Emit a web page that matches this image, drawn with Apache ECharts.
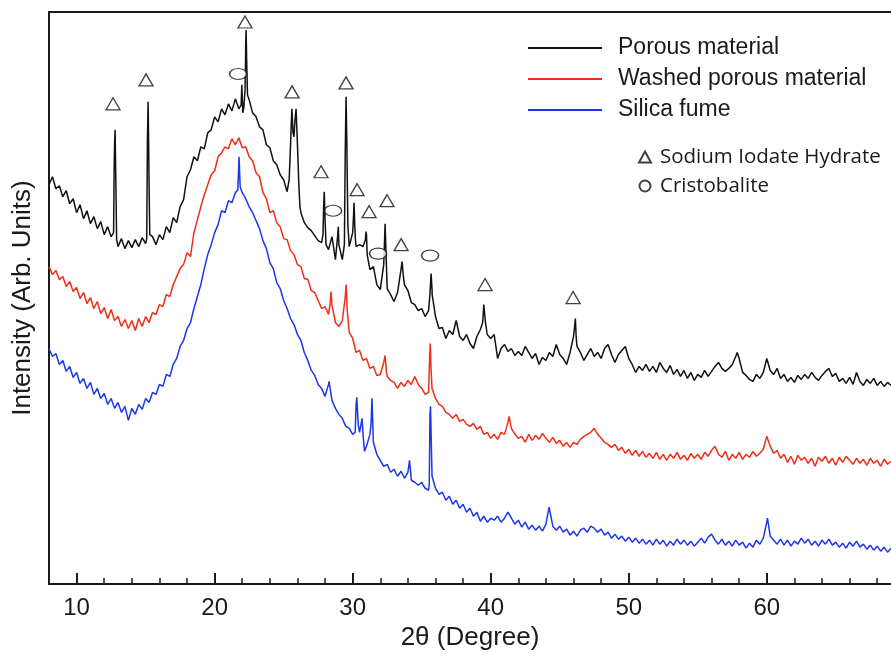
<!DOCTYPE html>
<html><head><meta charset="utf-8">
<script src="https://cdn.jsdelivr.net/npm/echarts@6/dist/echarts.min.js"></script>
<style>html,body{margin:0;padding:0;background:#fff}#c{width:891px;height:656px}</style>
</head><body><div id="c"></div>
<script>
// sampling grid of the read values (degrees 2θ)
const X_START = 8, X_STEP = 0.25;

// Porous material (black), values every 0.25° from 8 to 69
const porous = [
400,408,396,399, 388,394,381,386, 372,380,366,374, 361,368,356,363, 350,358,348,440,
338,346,336,344, 337,345,338,347, 341,400,348,340, 350,345,358,352, 367,362,378,385,
408,415,428,424, 438,436,452,455, 468,463,476,470, 481,474,486,476, 488,540,485,472,
468,458,455,440, 437,424,420,410, 405,393,440,448, 440,372,362,357, 354,349,344,342,
365,335,348,325, 340,325,470,338, 352,338,340,338, 350,315,318,300, 295,320,296,290,
283,292,315,300, 294,282,280,274, 276,268,274,295, 268,256,257,246, 254,250,264,248,
244,250,241,236, 248,255,280,250, 246,250,226,236, 240,233,236,229, 233,229,238,232,
226,231,220,227, 224,232,228,240, 230,226,220,232, 248,238,232,224, 230,236,228,232,
226,236,240,230, 222,230,234,238, 226,220,212,218, 214,220,213,218, 212,222,216,212,
219,210,215,208, 214,206,212,204, 210,207,214,208, 213,218,222,216, 213,216,220,228,
226,212,209,205, 203,210,206,212, 226,214,210,216, 206,210,203,207, 202,209,205,210,
206,212,207,204, 209,213,216,208, 211,203,206,201, 207,200,212,203, 199,205,201,206,
199,203,198,202, 199
];
// narrow peaks of the porous material, [2θ, value]
const porousPeaks = [
[12.68,352],[12.72,415],[12.79,455],[12.85,395],[12.9,345],
[15.08,346],[15.13,445],[15.18,483],[15.22,440],[15.3,350],
[21.92,480],[21.97,500],[22.04,472],[22.12,478],[22.2,495],[22.24,525],[22.28,555],[22.32,525],[22.38,490],
[25.4,405],[25.55,460],[25.6,476],[25.68,452],[25.82,465],[25.9,476],[26.1,400],[26.18,378],
[27.85,350],[27.9,380],[27.94,393],[27.99,370],[28.07,340],
[28.92,350],[28.96,358],
[29.4,340],[29.46,430],[29.52,488],[29.58,440],[29.65,360],
[30.06,368],[30.1,382],[30.15,360],[30.2,345],
[30.92,345],[30.97,353],[31.05,330],
[32.3,340],[32.35,361],[32.42,330],
[33.58,323],[33.66,310],
[35.6,290],[35.68,311],[35.76,290],
[37.57,265],
[39.42,262],[39.52,282],[39.62,262],
[46.08,258],[46.13,266],[46.2,246],
[57.86,232],[60.03,227]
];

// Washed porous material (red)
const washed = [
318,310,314,305, 308,298,303,293, 297,286,292,281, 287,276,283,271, 277,266,275,264,
268,258,265,256, 264,254,266,258, 268,262,272,270, 280,278,290,288, 300,308,316,320,
332,328,352,365, 378,390,400,410, 414,428,432,438, 436,446,440,447, 437,438,428,424,
412,408,392,386, 372,374,362,358, 346,345,334,330, 320,318,306,305, 294,292,284,276,
278,270,280,262, 258,264,294,252, 246,232,234,224, 226,216,218,209, 210,222,208,204,
202,196,202,198, 204,200,208,200, 196,190,192,196, 186,180,178,172, 170,166,170,163,
165,160,158,161, 155,158,150,152, 146,150,145,152, 150,162,156,150, 146,148,142,150,
144,149,145,151, 146,142,147,141, 144,138,142,137, 142,140,145,148, 150,152,156,150,
146,142,140,137, 140,134,137,131, 135,129,134,128, 133,127,131,126, 132,125,130,124,
130,126,132,125, 129,124,131,126, 130,125,132,128, 134,138,130,127, 133,124,130,126,
132,125,130,127, 133,128,131,135, 148,138,131,134, 126,130,122,128, 120,129,124,127,
121,126,118,127, 123,128,121,126, 119,127,122,128, 124,120,126,121, 125,119,126,121,
124,118,125,120, 123
];
const washedPeaks = [
[28.36,280],[28.43,293],
[29.44,285],[29.53,300],[29.6,275],
[32.35,229],[32.45,212],
[35.57,225],[35.62,241],[35.68,215],
[41.33,168],[60.05,150]
];

// Silica fume (blue)
const silica = [
236,228,231,220, 224,213,218,207, 212,201,206,196, 202,190,196,186, 191,180,186,176,
182,172,178,164, 176,170,180,175, 186,182,192,190, 200,198,210,208, 220,226,238,244,
256,262,276,288, 300,316,330,340, 352,360,374,372, 384,382,392,420, 392,386,378,372,
364,356,344,336, 322,316,302,296, 284,276,266,260, 250,244,232,224, 214,209,200,196,
188,200,184,176, 170,166,158,156, 150,180,152,150, 138,150,142,130, 124,118,120,112,
115,108,113,106, 112,104,102,99, 102,96,94,108, 96,90,92,84, 88,80,84,76,
80,72,76,68, 72,63,68,62, 66,64,68,62, 66,72,66,60, 64,57,62,55,
59,54,58,53, 60,76,58,54, 58,52,55,49, 53,48,54,56, 52,58,56,52,
55,49,52,46, 50,45,48,43, 47,42,46,41, 45,40,44,39, 45,40,44,38,
43,39,45,40, 44,39,43,38, 42,46,41,47, 50,44,40,45, 39,43,38,44,
39,42,36,41, 37,44,40,46, 62,48,44,40, 45,39,44,38, 43,40,46,41,
45,39,43,38, 44,40,45,39, 42,37,41,36, 42,38,43,37, 40,35,39,34,
38,33,37,32, 36
];
const silicaPeaks = [
[21.68,395],[21.77,428],[21.85,398],
[28.29,203],
[30.18,152],[30.3,187],[30.4,160],
[30.68,166],[30.86,133],
[31.33,160],[31.4,186],[31.48,150],
[34.12,124],
[35.55,100],[35.6,170],[35.64,178],[35.7,140],
[44.23,77],[60.05,66]
];

// phase markers placed above the peaks, [2θ, value]
const iodateMarks = [
[12.64,481],[15.03,505],[22.2,563],[25.61,493],[27.71,413],[29.52,502],
[30.32,395],[31.19,373],[32.49,384],[33.51,340],[39.59,300],[45.97,287]
];
const cristobaliteMarks = [[21.7,511],[28.58,374],[31.84,331],[35.61,329]];

const majorTicks = [10,20,30,40,50,60];
const minorTicks = [12,14,16,18,22,24,26,28,32,34,36,38,42,44,46,48,52,54,56,58,62,64,66,68];

function build(vals, peaks) {
  const pts = vals.map((v, i) => [X_START + i * X_STEP, v]);
  peaks.forEach(p => pts.push(p));
  pts.sort((a, b) => a[0] - b[0]);
  return pts;
}

const FONT = "'Liberation Sans', Arial, Helvetica, sans-serif";
const INK = '#1a1a1a';
const chart = echarts.init(document.getElementById('c'), null, {renderer: 'canvas'});
chart.setOption({
  animation: false,
  backgroundColor: '#fff',
  grid: {left: 49, right: 0, top: 12, bottom: 71},
  xAxis: [
    {type: 'value', min: 8, max: 69, position: 'bottom',
     axisLine: {show: true, onZero: false, lineStyle: {color: INK, width: 2}},
     axisTick: {show: true, inside: true, length: 11, customValues: majorTicks, lineStyle: {color: INK, width: 2}},
     axisLabel: {show: true, customValues: majorTicks, margin: 12, fontSize: 24, color: INK, fontFamily: FONT},
     splitLine: {show: false},
     name: '2θ (Degree)', nameLocation: 'middle', nameGap: 39,
     nameTextStyle: {fontSize: 26, color: INK, fontFamily: FONT}},
    {type: 'value', min: 8, max: 69, position: 'bottom', gridIndex: 0,
     axisLine: {show: false, onZero: false},
     axisTick: {show: true, inside: true, length: 6, customValues: minorTicks, lineStyle: {color: INK, width: 1.5}},
     axisLabel: {show: false}, splitLine: {show: false}},
    {type: 'value', min: 8, max: 69, position: 'top', gridIndex: 0,
     axisLine: {show: true, onZero: false, lineStyle: {color: INK, width: 2}},
     axisTick: {show: false}, axisLabel: {show: false}, splitLine: {show: false}}
  ],
  yAxis: {type: 'value', min: 0, max: 573,
    axisLine: {show: true, onZero: false, lineStyle: {color: INK, width: 2}},
    axisTick: {show: false}, axisLabel: {show: false}, splitLine: {show: false},
    name: 'Intensity (Arb. Units)', nameLocation: 'middle', nameGap: 13,
    nameTextStyle: {fontSize: 26, color: INK, fontFamily: FONT}},
  legend: [
    {data: [{name: 'Porous material', icon: 'rect'},
            {name: 'Washed porous material', icon: 'rect'},
            {name: 'Silica fume', icon: 'rect'}],
     orient: 'vertical', left: 528, top: 36, padding: 0,
     itemWidth: 74, itemHeight: 2, itemGap: 7,
     textStyle: {fontFamily: FONT, fontSize: 23, color: INK, lineHeight: 24, padding: [0, 0, 0, 11]}},
    {data: ['Sodium Iodate Hydrate', 'Cristobalite'],
     orient: 'vertical', left: 638, top: 145, padding: 0,
     itemWidth: 12, itemHeight: 11, itemGap: 5,
     textStyle: {fontFamily: "'Open Sans', sans-serif", fontSize: 20.5, color: INK, lineHeight: 24, padding: [0, 0, 0, 4]}}
  ],
  series: [
    {name: 'Porous material', type: 'line', data: build(porous, porousPeaks), symbol: 'none',
     lineStyle: {color: '#111111', width: 1.5}, itemStyle: {color: '#111111'}, z: 3},
    {name: 'Washed porous material', type: 'line', data: build(washed, washedPeaks), symbol: 'none',
     lineStyle: {color: '#ef2e16', width: 1.5}, itemStyle: {color: '#ef2e16'}, z: 2},
    {name: 'Silica fume', type: 'line', data: build(silica, silicaPeaks), symbol: 'none',
     lineStyle: {color: '#1c36ea', width: 1.5}, itemStyle: {color: '#1c36ea'}, z: 2},
    {name: 'Sodium Iodate Hydrate', type: 'scatter', data: iodateMarks, symbol: 'triangle',
     symbolSize: [14, 12], itemStyle: {color: '#ffffff', borderColor: '#111111', borderWidth: 1.3}, z: 5},
    {name: 'Cristobalite', type: 'scatter', data: cristobaliteMarks, symbol: 'circle',
     symbolSize: [17, 11], itemStyle: {color: '#ffffff', borderColor: '#111111', borderWidth: 1.3}, z: 5}
  ]
});
</script>
</body></html>
